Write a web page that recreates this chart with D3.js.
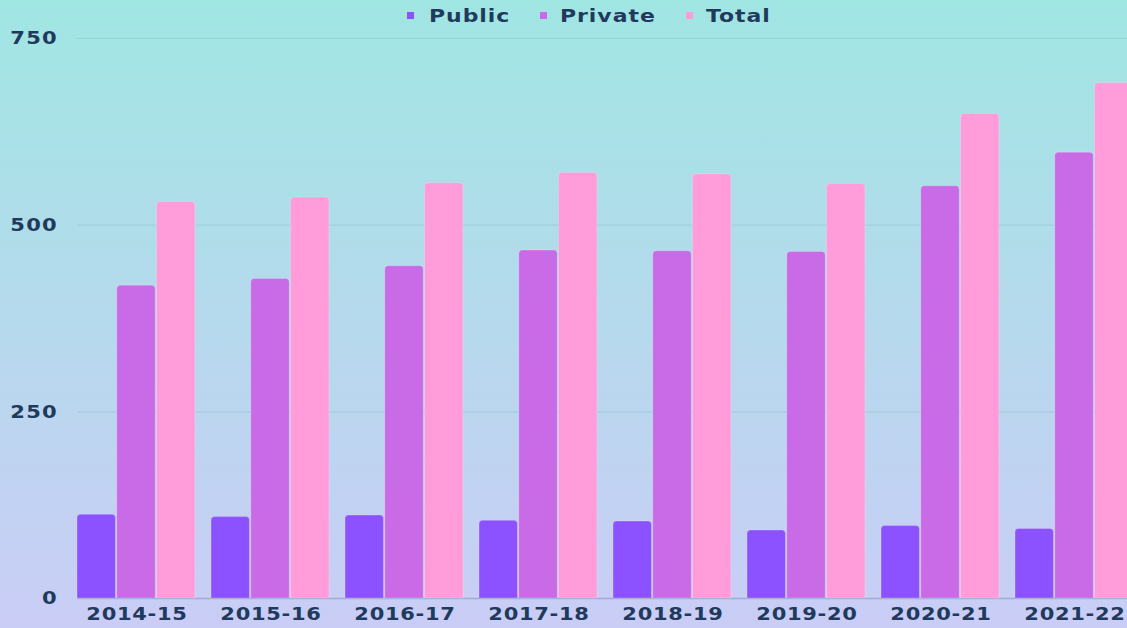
<!DOCTYPE html>
<html><head><meta charset="utf-8">
<script src="https://cdn.jsdelivr.net/npm/d3@7"></script>
<style>
html,body{margin:0;padding:0;overflow:hidden;}
svg{display:block;}
text{font-family:"DejaVu Sans",sans-serif;font-weight:bold;fill:#1f3a5c;}
</style></head>
<body>
<script>
const categories = ["2014-15","2015-16","2016-17","2017-18","2018-19","2019-20","2020-21","2021-22"];
const seriesNames = ["Public","Private","Total"];
const publicVals  = [112,109,111,104,103,91,97,93];
const privateVals = [419,428,445,466,465,464,552,597];
const totalVals   = [531,537,556,570,568,555,649,690];
const yTicks = [0,250,500,750];
const colors = ["#8c52ff","#c96ae6","#ff9cd9"];

const W = 1127, H = 628;
const svg = d3.select("body").append("svg").attr("width", W).attr("height", H);
const defs = svg.append("defs");
const grad = defs.append("linearGradient").attr("id","bg").attr("x1",0).attr("y1",0).attr("x2",0).attr("y2",1);
grad.append("stop").attr("offset","0%").attr("stop-color","#a0e6e3");
grad.append("stop").attr("offset","100%").attr("stop-color","#cacdf6");
svg.append("rect").attr("width",W).attr("height",H).attr("fill","url(#bg)");

const y = d3.scaleLinear().domain([0,750]).range([598,38]);
const x = d3.scaleBand().domain(categories).range([69, 69+8*134]).paddingInner(0.12).paddingOuter(0.06);
const xs = d3.scaleBand().domain(seriesNames).range([0, x.bandwidth()]).paddingInner(0.035);

// grid
const grid = svg.append("g").call(d3.axisLeft(y).tickValues(yTicks).tickSize(-(W-77)).tickFormat(""))
  .attr("transform","translate(77,0)");
grid.select(".domain").remove();
grid.selectAll("line").attr("stroke","#8fc9d0").attr("stroke-opacity",0.55).attr("stroke-width",1.2);
grid.selectAll(".tick").filter(d=>d===0).select("line").attr("stroke","#9aa6d0").attr("stroke-opacity",0.9).attr("stroke-width",1.5);

// y labels
const ya = svg.append("g").attr("transform","translate(58,0)").call(d3.axisLeft(y).tickValues(yTicks).tickSize(0).tickPadding(0));
ya.select(".domain").remove();
ya.selectAll("text").attr("x",0).attr("font-size",17).attr("letter-spacing","1px").attr("dy","0.35em")
  .attr("transform","scale(1.24,1)")
  .style("font-family","DejaVu Sans").style("font-weight","bold").attr("fill","#1f3a5c");

// x labels
const xa = svg.append("g").attr("transform","translate(1,598)").call(d3.axisBottom(x).tickSize(0).tickPadding(10));
xa.select(".domain").remove();
xa.selectAll("text").attr("font-size",17.5).attr("letter-spacing","0.6px").attr("dy","0.71em")
  .attr("transform","scale(1.2,1)")
  .style("font-family","DejaVu Sans").style("font-weight","bold").attr("fill","#1f3a5c");

// bars
const data = categories.map((c,i)=>({cat:c, vals:[publicVals[i],privateVals[i],totalVals[i]]}));
function topRounded(x0,y0,w,h,r){
  return `M${x0},${y0+h}V${y0+r}Q${x0},${y0} ${x0+r},${y0}H${x0+w-r}Q${x0+w},${y0} ${x0+w},${y0+r}V${y0+h}Z`;
}
const g = svg.append("g");
data.forEach(d=>{
  d.vals.forEach((v,j)=>{
    const bx = x(d.cat)+xs(seriesNames[j]);
    const by = y(v);
    g.append("path").attr("d", topRounded(bx,by,xs.bandwidth(),y(0)-by,3.5))
      .attr("fill",colors[j]).attr("stroke","rgba(255,255,255,0.2)").attr("stroke-width",1);
  });
});

// legend
const legendItems = [{n:"Public",sx:407,tx:429},{n:"Private",sx:540,tx:560},{n:"Total",sx:686,tx:706}];
const lg = svg.append("g");
legendItems.forEach((it,i)=>{
  lg.append("rect").attr("x",it.sx).attr("y",12).attr("width",7).attr("height",7).attr("fill",colors[i]);
  lg.append("text").attr("transform",`translate(${it.tx},22) scale(1.22,1)`)
    .attr("font-size",18).attr("letter-spacing","0.8px").text(it.n);
});
</script>
</body></html>
